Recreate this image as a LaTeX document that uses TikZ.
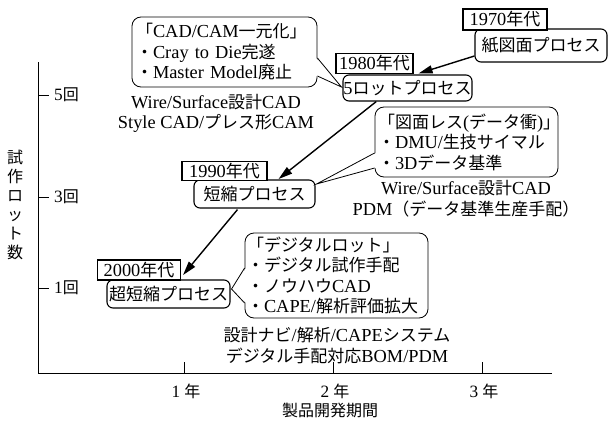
\documentclass[tikz,border=0pt]{standalone}
\usepackage{fontspec}
\setmainfont{Liberation Serif}[Scale=1.08]
\newfontfamily\lafont{Liberation Serif}[Scale=1.08]
\newfontfamily\jpfont{Noto Sans CJK JP}
\usetikzlibrary{arrows.meta,calc}
\newcount\cjkcnt
\newXeTeXintercharclass\cjkcls
\def\cjkrange#1#2{\cjkcnt=#1\relax\loop\XeTeXcharclass\cjkcnt=\cjkcls\relax\advance\cjkcnt by 1\relax\ifnum\cjkcnt<#2\relax\repeat}
\cjkrange{"3000}{"3100}
\cjkrange{"4E00}{"A000}
\cjkrange{"FF00}{"FFF0}
\XeTeXinterchartoks 0 \cjkcls = {\jpfont}
\XeTeXinterchartoks 4095 \cjkcls = {\jpfont}
\XeTeXinterchartoks \cjkcls 0 = {\lafont}
\XeTeXinterchartoks \cjkcls 4095 = {\lafont}
\XeTeXinterchartokenstate=1
\begin{document}
\begin{tikzpicture}[x=1pt,y=-1pt,
  every node/.style={inner sep=0pt, font=\fontsize{17}{20.5}\selectfont},
  yearbox/.style={draw, fill=white, line width=1.1pt, minimum height=20pt},
  procbox/.style={draw, fill=white, line width=1.1pt, rounded corners=6pt},
  callout/.style={draw, line width=0.8pt, rounded corners=9pt, align=left, inner xsep=4pt},
  flow/.style={line width=1.4pt, -{Triangle[length=14pt,width=8pt]}},
  axis/.style={line width=0.9pt},
  ptr/.style={line width=0.8pt},
  ticklab/.style={font=\fontsize{16}{19}\selectfont},
]
\useasboundingbox (0,0) rectangle (608,423);

% axes
\coordinate (O) at (38,373);
\coordinate (ytop) at (38,62);
\coordinate (xend) at (552,373);
\draw[axis] (ytop) -- (O) -- (xend);
\foreach \yy/\lab in {95/5回,197/3回,288/1回}{
  \draw[axis] (38,\yy) -- (49,\yy);
  \node[ticklab, anchor=west] at (54,\yy) {\lab};
}
\foreach \xx/\lab in {184/1 年,333/2 年,482/3 年}{
  \draw[axis] (\xx,373) -- (\xx,362);
  \node[ticklab] at (\xx+2,391) {\lab};
}
\node[font=\fontsize{16}{19}\selectfont] (xlab) at (330,410) {製品開発期間};
\node[font=\fontsize{16}{19}\selectfont, align=center] (ylab) at (15,205) {試\\作\\ロ\\ッ\\ト\\数};

% process boxes
\node[procbox, minimum width=132pt, minimum height=33pt] (p70) at (541,45.5) {紙図面プロセス};
\node[yearbox, minimum width=84pt, minimum height=21pt] (y70) at (505,19.5) {1970年代};
\node[procbox, minimum width=129pt, minimum height=26pt] (p80) at (407.5,88) {5ロットプロセス};
\node[yearbox, minimum width=77pt] (y80) at (374.5,63.5) {1980年代};
\node[procbox, minimum width=121pt, minimum height=28pt] (p90) at (254.5,194) {短縮プロセス};
\node[yearbox, minimum width=85pt, minimum height=19pt] (y90) at (224.5,171) {1990年代};
\node[procbox, minimum width=123pt, minimum height=28pt] (p00) at (168.5,294) {超短縮プロセス};
\node[yearbox, minimum width=83pt] (y00) at (139,270) {2000年代};

% flow arrows
\draw[flow] ($(p70.west)+(0,10.5)$) -- ($(y80.east)+(5,10)$);
\draw[flow] ($(p80.south west)!0.26!(p80.south east)$) -- ($(y90.east)+(11,8)$);
\draw[flow] ($(p90.south)+(-17,1)$) -- ($(y00.east)+(2,5)$);

% callouts
\node[callout, minimum width=185pt, minimum height=70pt, text width=177pt] (c1) at (224.5,52)
  {「CAD/CAM一元化」\\・Cray to Die完遂\\・Master Model廃止};
\node[callout, minimum width=183pt, minimum height=70pt, text width=177pt, inner xsep=3pt] (c2) at (466.5,142)
  {「図面レス(データ衝)」\\・DMU/生技サイマル\\・3Dデータ基準};
\node[callout, minimum width=183pt, minimum height=85pt, text width=179pt, inner xsep=2pt] (c3) at (336.5,275.5)
  {「デジタルロット」\\・デジタル試作手配\\・ノウハウCAD\\・CAPE/解析評価拡大};

% pointers
\coordinate (c1a) at ($(c1.east)+(0,6)$);
\coordinate (c1b) at ($(c1.east)+(0,24)$);
\coordinate (c1t) at ($(p80.west)+(-1,-1)$);
\fill[white] ($(c1a)+(-1.5,0)$) -- (c1t) -- ($(c1b)+(-1.5,0)$) -- cycle;
\draw[ptr] (c1a) -- (c1t) -- (c1b);

\coordinate (c2a) at ($(c2.west)+(0,11)$);
\coordinate (c2b) at ($(c2.west)+(0,26)$);
\coordinate (c2t) at ($(p90.east)+(1,-10)$);
\fill[white] ($(c2a)+(1.5,0)$) -- (c2t) -- ($(c2b)+(1.5,0)$) -- cycle;
\draw[ptr] (c2a) -- (c2t) -- (c2b);

\coordinate (c3a) at ($(c3.west)+(0,-7.5)$);
\coordinate (c3b) at ($(c3.west)+(0,27.5)$);
\coordinate (c3t) at ($(p00.east)+(1,-5)$);
\fill[white] ($(c3a)+(1.5,0)$) -- (c3t) -- ($(c3b)+(1.5,0)$) -- cycle;
\draw[ptr] (c3a) -- (c3t) -- (c3b);

% system texts
\node (w1) at (216,102) {Wire/Surface設計CAD};
\node (s1) at (216,123) {Style CAD/プレス形CAM};
\node (w2) at (466,188) {Wire/Surface設計CAD};
\node (pdm) at (466,209) {PDM（データ基準生産手配）};
\node (nav) at (337,335) {設計ナビ/解析/CAPEシステム};
\node (bom) at (337,356) {デジタル手配対応BOM/PDM};
\end{tikzpicture}
\end{document}
